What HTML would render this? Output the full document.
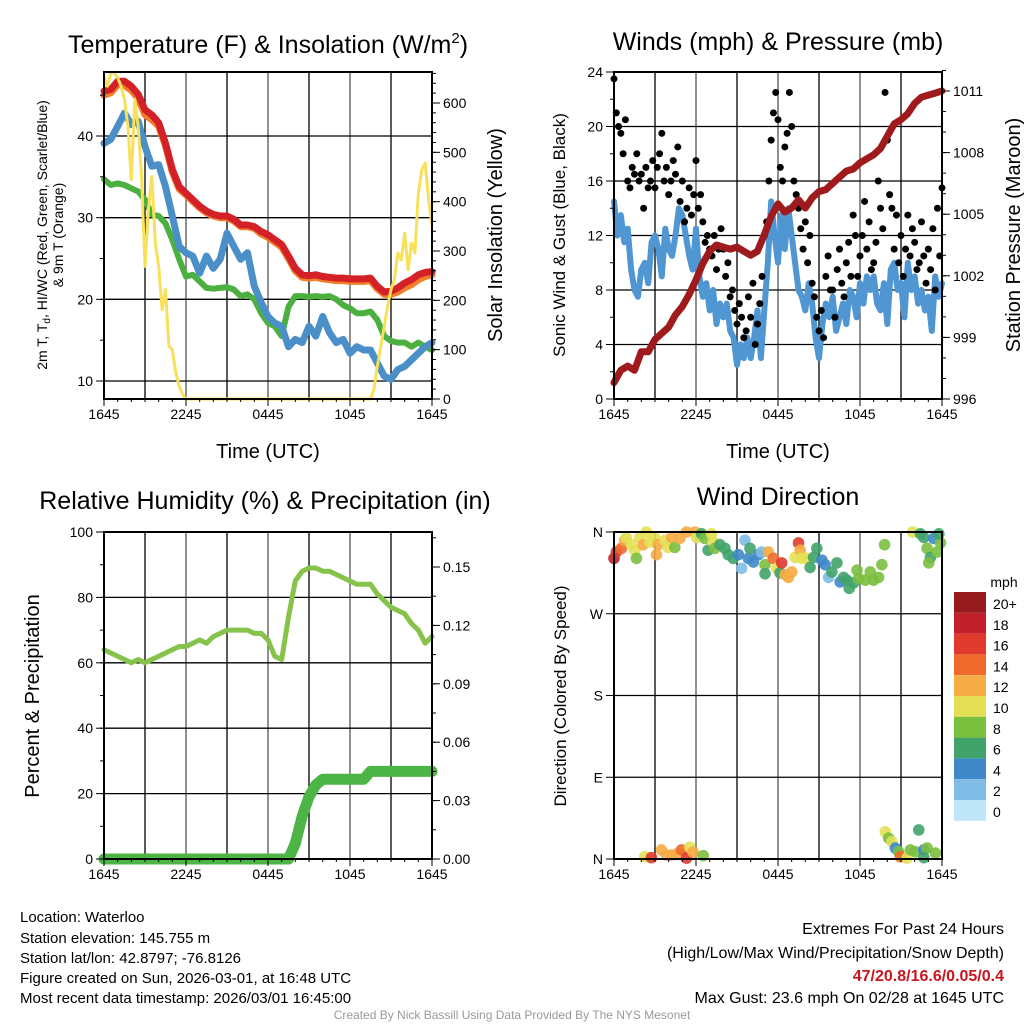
<!DOCTYPE html>
<html><head><meta charset="utf-8"><style>
body{margin:0;background:#fff}
svg{display:block;font-family:"Liberation Sans",Arial,sans-serif}
</style></head><body>
<svg id="s" width="1024" height="1024" viewBox="0 0 1024 1024" xmlns="http://www.w3.org/2000/svg">
<rect width="1024" height="1024" fill="#fff"/>
<g id="g"></g>
<text x="268" y="53" font-size="25" text-anchor="middle">Temperature (F) &amp; Insolation (W/m<tspan font-size="15" dy="-10">2</tspan><tspan dy="10">)</tspan></text>
<text x="778" y="50" font-size="25" text-anchor="middle">Winds (mph) &amp; Pressure (mb)</text>
<text x="265" y="509" font-size="25" text-anchor="middle">Relative Humidity (%) &amp; Precipitation (in)</text>
<text x="778" y="505" font-size="25" text-anchor="middle">Wind Direction</text>
<text x="268" y="458" font-size="20" text-anchor="middle">Time (UTC)</text>
<text x="778" y="458" font-size="20" text-anchor="middle">Time (UTC)</text>
<text transform="translate(47,235) rotate(-90)" font-size="14" text-anchor="middle">2m T, T<tspan font-size="10" dy="3">d</tspan><tspan dy="-3">, HI/WC (Red, Green, Scarlet/Blue)</tspan></text>
<text transform="translate(63,235) rotate(-90)" font-size="14" text-anchor="middle">&amp; 9m T (Orange)</text>
<text transform="translate(502,235) rotate(-90)" font-size="20" text-anchor="middle">Solar Insolation (Yellow)</text>
<text transform="translate(565,235) rotate(-90)" font-size="17" text-anchor="middle">Sonic Wind &amp; Gust (Blue, Black)</text>
<text transform="translate(1020,235) rotate(-90)" font-size="20" text-anchor="middle">Station Pressure (Maroon)</text>
<text transform="translate(39,696) rotate(-90)" font-size="20" text-anchor="middle">Percent &amp; Precipitation</text>
<text transform="translate(566,696) rotate(-90)" font-size="17" text-anchor="middle">Direction (Colored By Speed)</text>
<g font-size="15">
<text x="20" y="922">Location: Waterloo</text>
<text x="20" y="943">Station elevation: 145.755 m</text>
<text x="20" y="963">Station lat/lon: 42.8797; -76.8126</text>
<text x="20" y="983">Figure created on Sun, 2026-03-01, at 16:48 UTC</text>
<text x="20" y="1003">Most recent data timestamp: 2026/03/01 16:45:00</text>
</g>
<g font-size="16" text-anchor="end">
<text x="1004" y="934">Extremes For Past 24 Hours</text>
<text x="1004" y="958">(High/Low/Max Wind/Precipitation/Snow Depth)</text>
<text x="1004" y="981" fill="#c8161e" font-weight="bold">47/20.8/16.6/0.05/0.4</text>
<text x="1004" y="1003">Max Gust: 23.6 mph On 02/28 at 1645 UTC</text>
</g>
<text x="512" y="1019" font-size="12" fill="#999" text-anchor="middle">Created By Nick Bassill Using Data Provided By The NYS Mesonet</text>
</svg>
<script>
// ---- data ----
const xTickLabels=["1645","2245","0445","1045","1645"];
const tempT=[45.5,45.7,46.7,46.7,46.1,45.1,43.2,42.6,41.6,39.1,35.9,33.8,33.0,32.2,31.4,30.8,30.4,30.2,30.2,29.8,29.1,29.1,28.9,28.3,27.9,27.3,26.7,25.3,23.8,23.0,22.9,23.0,22.8,22.7,22.6,22.6,22.5,22.5,22.5,22.6,21.6,20.9,21.0,21.4,22.0,22.4,23.0,23.3,23.4];
const temp9m=[45.0,45.3,46.3,46.2,45.6,44.6,42.6,42.0,41.2,38.8,35.6,33.5,32.8,32.0,31.2,30.6,30.2,30.0,30.0,29.6,28.9,28.9,28.7,28.0,27.6,27.0,26.4,25.0,23.5,22.7,22.6,22.7,22.5,22.4,22.3,22.3,22.2,22.2,22.2,22.3,21.3,20.6,20.6,20.9,21.4,21.8,22.4,22.8,23.0];
const dewT=[34.7,34.0,34.2,34.0,33.6,33.2,32.2,30.4,30.2,29.3,27.3,24.9,22.8,23.0,22.2,21.4,21.3,21.4,21.5,21.2,20.4,20.6,20.0,18.3,17.1,16.7,15.5,19.1,20.4,20.4,20.3,20.4,20.3,20.4,20.0,19.3,18.9,18.3,18.3,18.5,17.5,15.5,14.9,14.7,14.7,14.2,14.7,14.2,13.8];
const chillT=[39.1,39.6,41.2,42.8,41.4,41.8,38.7,36.3,36.5,33.8,30.2,26.5,25.7,25.3,23.2,25.3,23.8,24.9,28.1,26.5,24.9,25.7,21.6,19.6,17.9,17.1,16.7,14.2,15.1,14.7,16.7,15.5,17.9,15.9,14.7,15.1,13.4,14.2,13.8,13.8,12.2,10.6,10.2,11.4,11.8,12.6,13.4,14.2,14.7];
const solarHour=[0,0.25,0.5,0.75,1,1.25,1.5,1.75,2,2.25,2.5,2.75,3,3.25,3.5,3.75,4,4.25,4.5,4.75,5,5.25,5.5,5.75,6,19.5,19.75,20,20.25,20.5,20.75,21,21.25,21.5,21.75,22,22.25,22.5,22.75,23,23.25,23.5,23.75,24];
const solarW=[654,634,661,661,651,634,607,553,445,607,553,451,269,384,451,316,269,181,222,107,100,53,26,9,0,0,19,66,107,147,188,222,242,296,282,336,262,316,296,417,465,478,404,350];
const windMph=[14.5,12.0,13.5,11.5,12.5,9.5,8.0,7.5,9.5,10.0,8.5,11.5,12.0,11.0,9.0,12.5,11.0,10.5,12.0,14.0,13.5,12.0,10.5,9.5,12.5,9.0,7.5,8.5,6.5,8.0,5.5,7.0,6.0,7.0,5.0,4.5,2.5,4.0,3.0,4.5,3.0,4.5,6.5,3.0,6.5,10.0,14.5,12.0,10.0,13.5,11.0,14.0,12.0,10.0,8.0,7.5,6.5,8.5,7.0,4.5,3.0,5.5,7.0,6.0,7.5,5.0,6.0,7.0,5.5,8.0,7.5,6.0,8.5,7.0,9.0,8.0,9.0,7.0,6.5,8.5,5.5,9.5,10.0,8.0,8.5,6.0,10.0,8.0,9.0,7.0,8.0,6.5,7.5,5.0,9.0,7.5,8.5];
const gustMph=[23.5,21,20,19.5,18,20.5,16,15.5,17,16.5,18,16,16.5,14,17,15.5,16,17.5,15.5,17,18,19.5,16,17,15,16,17.5,16.5,18.5,14.5,16,13,14,15.5,13.5,15,17.5,14,15,13,11.5,12,11,10.5,12,9.5,11,12.5,11,9,10,7.5,8,6.5,5.5,7,6,4.5,5,7.5,6,8.5,4,5.5,7,9,12,13,16,19,21,22.5,20.5,17,16,18.5,19.5,22.5,20,16,15,14,12.5,11,13,10,12,8.5,7.5,6,5,6.5,4.5,9,10.5,8,8,6,9.5,11,8.5,7.5,10,11.5,9,13.5,12,9,10.5,12,14.5,11,13,9.5,10,11.5,16,14,12.5,22.5,19,15,14,11,13.5,10,12,9,11,13.5,10.5,12.5,11.5,9.5,10,13,10.5,8.5,11,9.5,12.5,8,14,10.5,15.5];
const pressureMb=[996.8,997.4,997.6,997.4,998.3,998.3,998.9,999.2,999.5,1000.1,1000.5,1001.1,1001.8,1002.6,1003.2,1003.5,1003.4,1003.3,1003.4,1003.2,1003.0,1003.2,1004.0,1004.9,1005.5,1005.1,1005.3,1005.7,1005.3,1005.8,1006.1,1006.2,1006.5,1006.8,1007.1,1007.2,1007.5,1007.7,1007.9,1008.2,1008.8,1009.4,1009.6,1009.9,1010.4,1010.7,1010.8,1010.9,1011.0];
const rhPct=[64,63,62,61,60,61,60,61,62,63,64,65,65,66,67,66,68,69,70,70,70,70,69,69,67,62,61,74,85,88,89,89,88,88,87,86,85,84,84,84,81,79,77,76,75,72,70,66,68];
const precipIn=[0,0,0,0,0,0,0,0,0,0,0,0,0,0,0,0,0,0,0,0,0,0,0,0,0,0,0,0,0.008,0.022,0.032,0.038,0.041,0.041,0.041,0.041,0.041,0.041,0.041,0.045,0.045,0.045,0.045,0.045,0.045,0.045,0.045,0.045,0.045];
const dirHour=[0,0.17,0.54,0.78,0.9,1.27,1.52,1.64,1.88,2.13,2.37,2.62,2.98,3.11,3.23,3.72,3.96,4.21,4.45,4.82,5.31,5.92,6.04,6.41,6.65,6.89,7.14,7.26,7.38,7.75,8.12,8.36,8.73,9.1,9.34,9.58,9.83,9.95,10.2,10.56,10.81,11.05,11.05,11.3,11.66,11.91,12.15,12.27,12.52,12.76,13.01,13.25,13.5,13.62,13.74,14.11,14.35,14.6,14.84,15.21,15.45,15.7,15.94,16.31,16.55,16.8,17.04,17.21,17.53,17.78,17.9,18.39,18.75,18.99,19.36,19.6,19.8,21.86,22.42,22.67,22.91,23.15,23.4,23.64,23.89,23.77,23.03,2.25,2.74,3.47,3.84,4.21,4.69,4.94,5.31,5.55,5.79,6.53,19.85,20.1,20.34,20.59,20.83,20.95,21.44,21.69,22.05,22.3,22.67,22.91,22.67,23.52];
const dirDeg=[331,338,342,351,354,346,340,331,354,346,360,349,354,335,346,351,343,354,343,353,360,360,354,358,353,340,358,349,342,346,342,335,331,335,320,351,331,342,327,335,338,324,314,338,331,320,315,326,313,310,316,332,348,340,331,331,321,332,342,329,324,310,316,326,305,310,307,298,304,318,309,307,316,307,310,324,346,360,358,354,342,332,353,338,348,358,326,2.6,1.5,10,4.4,4.4,6.6,10,1,13,7.7,3.7,30,23,19,12,8,2.5,1,10,8,32,10,12,1.5,6.6];
const dirSpd=[18,16,14,12,10,10,10,8,10,12,10,10,10,12,12,10,10,12,8,12,12,12,10,6,8,6,10,10,8,6,6,6,6,4,2,2,4,6,4,4,2,8,6,12,14,10,6,16,12,12,12,10,16,12,10,10,6,6,6,4,4,2,6,6,4,6,6,6,6,8,8,8,8,8,8,8,8,10,6,6,8,6,4,8,8,6,8,10,16,12,12,12,12,14,16,10,12,8,10,8,10,4,8,14,10,8,8,6,4,8,6,8];
const cbLabels=["20+","18","16","14","12","10","8","6","4","2","0"];
const cbColors=["#961a1e","#c2202a","#e03a2e","#ef6a2c","#f6ac45","#e4e055","#7bbf3f","#41a36a","#3f88c8","#7fbce6","#bfe6f8"];

const NS="http://www.w3.org/2000/svg";
const G=document.getElementById('g');
function el(t,a,p){const e=document.createElementNS(NS,t);for(const k in a)e.setAttribute(k,a[k]);(p||G).appendChild(e);return e;}
function txt(x,y,s,sz,anc,p){const e=el('text',{x:x,y:y,'font-size':sz,'text-anchor':anc||'middle'},p);e.textContent=s;return e;}

function panel(name,x0,x1,y0,y1){
  const g=el('g',{});
  
  
  return {g,x0,x1,y0,y1,xs:h=>x0+(x1-x0)*h/24};
}
function lin(d0,d1,p0,p1){return v=>p0+(v-d0)*(p1-p0)/(d1-d0);}
function grid(P,hVals,ys){
  for(let h=3;h<24;h+=3){const l=el('line',{x1:P.xs(h),x2:P.xs(h),y1:P.y0,y2:P.y1,stroke:(h%6==0)?'#555':'#000','stroke-width':1.3},P.g);}
  hVals.forEach(v=>{const l=el('line',{x1:P.x0,x2:P.x1,y1:ys(v),y2:ys(v),stroke:'#000','stroke-width':1.3},P.g);});
}
function frame(P){const r=el('rect',{x:P.x0,y:P.y0,width:P.x1-P.x0,height:P.y1-P.y0,fill:'none',stroke:'#000','stroke-width':2},P.g);}
function xAxis(P){
  for(let h=0;h<=24;h+=1){const big=h%6==0;el('line',{x1:P.xs(h),x2:P.xs(h),y1:P.y1,y2:P.y1+(big?7:3),stroke:'#000','stroke-width':1},P.g);}
  xTickLabels.forEach((s,i)=>{const t=txt(P.xs(i*6),P.y1+20,s,14,'middle',P.g);});
}
function yTicks(P,side,vals,ys,labels,minor){
  const x=side=='l'?P.x0:P.x1, d=side=='l'?-1:1;
  minor.forEach(v=>el('line',{x1:x,x2:x+d*4,y1:ys(v),y2:ys(v),stroke:'#000'},P.g));
  vals.forEach((v,i)=>{el('line',{x1:x,x2:x+d*8,y1:ys(v),y2:ys(v),stroke:'#000'},P.g);
    const t=txt(x+d*11,ys(v)+5,labels[i],14,side=='l'?'end':'start',P.g);});
}
function line(P,hs,vs,ys,color,w,name){
  const pts=vs.map((v,i)=>P.xs(hs[i]).toFixed(1)+','+ys(v).toFixed(1)).join(' ');
  const l=el('polyline',{points:pts,fill:'none',stroke:color,'stroke-width':w,'stroke-linejoin':'round','stroke-linecap':'round'},P.g);
  
  
  return l;
}
const half=a=>a.map((_,i)=>i*0.5);
const range=(a,b,s)=>{const r=[];for(let v=a;v<=b+1e-9;v+=s)r.push(v);return r;};

// ---- Panel 1 temperature ----
const P1=panel('temperature-panel',104,432,72,399);
const t1=lin(10,40,381,136), s1=lin(0,600,399,103);
grid(P1,[10,20,30,40],t1);
line(P1,half(temp9m),temp9m,t1,'#f07e2a',7,'temp-9m-line');
line(P1,half(tempT),tempT,t1,'#d42027',7,'temp-2m-line');
line(P1,half(dewT),dewT,t1,'#4bb040',6,'dewpoint-line');
line(P1,half(chillT),chillT,t1,'#4a8fc8',7,'windchill-line');
line(P1,solarHour,solarW,s1,'#f8e05a',3,'solar-insolation-line');
frame(P1);xAxis(P1);
yTicks(P1,'l',[10,20,30,40],t1,['10','20','30','40'],range(10,45,5));
yTicks(P1,'r',[0,100,200,300,400,500,600],s1,['0','100','200','300','400','500','600'],range(0,660,20));

// ---- Panel 2 winds ----
const P2=panel('winds-panel',614,942,72,399);
const w2=lin(0,24,399,72), p2=lin(996,1011,399,91);
grid(P2,[4,8,12,16,20],w2);
line(P2,windMph.map((_,i)=>i*0.25),windMph,w2,'#4f96d2',6,'sonic-wind-line');
gustMph.forEach((v,i)=>{const c=el('circle',{cx:P2.xs(i/6),cy:w2(v),r:3.5,fill:'#000'},P2.g);});
line(P2,half(pressureMb),pressureMb,p2,'#9e1a1c',7,'pressure-line');
frame(P2);xAxis(P2);
yTicks(P2,'l',[0,4,8,12,16,20,24],w2,['0','4','8','12','16','20','24'],range(0,24,2));
yTicks(P2,'r',[996,999,1002,1005,1008,1011],p2,['996','999','1002','1005','1008','1011'],range(996,1012,1));

// ---- Panel 3 humidity ----
const P3=panel('humidity-panel',104,432,532,859);
const r3=lin(0,100,859,532), q3=lin(0,0.15,859,567);
grid(P3,[20,40,60,80],r3);
line(P3,half(precipIn),precipIn,q3,'#4cb545',11,'precipitation-line');
line(P3,half(rhPct),rhPct,r3,'#86c34a',5,'humidity-line');
frame(P3);xAxis(P3);
yTicks(P3,'l',[0,20,40,60,80,100],r3,['0','20','40','60','80','100'],range(0,100,10));
yTicks(P3,'r',[0,0.03,0.06,0.09,0.12,0.15],q3,['0.00','0.03','0.06','0.09','0.12','0.15'],range(0,0.165,0.015));

// ---- Panel 4 direction ----
const P4=panel('wind-direction-panel',614,942,532,859);
const d4=lin(0,360,859,532);
grid(P4,[90,180,270],d4);
function spdColor(s){const i=Math.min(10,Math.max(0,Math.round(s/2)));return cbColors[10-i];}
dirDeg.forEach((v,i)=>{const c=el('circle',{cx:P4.xs(dirHour[i]),cy:d4(v),r:5.8,fill:spdColor(dirSpd[i]),'fill-opacity':0.9},P4.g);});
frame(P4);xAxis(P4);
yTicks(P4,'l',[0,90,180,270,360],d4,['N','E','S','W','N'],[]);
// colorbar
const cb=el('g',{});


txt(1004,587,'mph',14,'middle',cb);
cbColors.forEach((c,i)=>{const r=el('rect',{x:954,y:592+i*20.8,width:32,height:20.8,fill:c},cb);
  txt(993,609+i*20.8,cbLabels[i],14,'start',cb);});
</script>
</body></html>
